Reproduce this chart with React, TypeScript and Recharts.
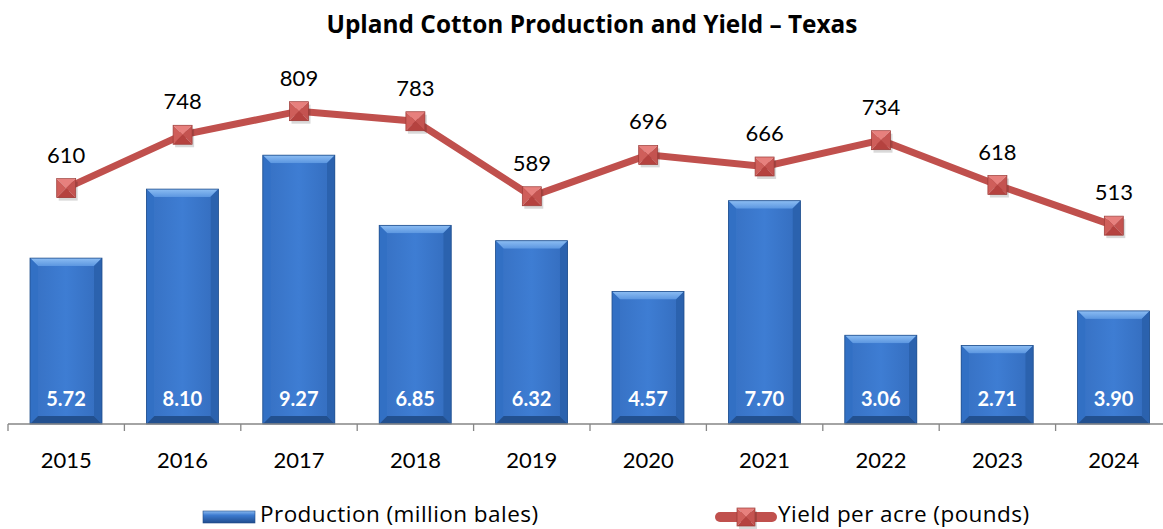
import React from 'react';
import { ComposedChart, Bar, Line, XAxis, YAxis, LabelList, Legend, Customized } from 'recharts';

const years = ['2015', '2016', '2017', '2018', '2019', '2020', '2021', '2022', '2023', '2024'];
const production = [5.72, 8.1, 9.27, 6.85, 6.32, 4.57, 7.7, 3.06, 2.71, 3.9];
const yieldPerAcre = [610, 748, 809, 783, 589, 696, 666, 734, 618, 513];

const title = 'Upland Cotton Production and Yield \u2013 Texas';
const productionName = 'Production (million bales)';
const yieldName = 'Yield per acre (pounds)';

const data = years.map((y, i) => ({ year: y, production: production[i], yield: yieldPerAcre[i] }));

const FONT = 'Lato, "Open Sans", sans-serif';
const TFONT = '"Open Sans", Lato, sans-serif';
const RED = '#C0504D';

const BevelBar = (props: any) => {
  const { x, y, width: w, height: h } = props;
  if (!h || h <= 0) return null;
  const b = Math.min(8, w / 4, h / 4);
  return (
    <g>
      <rect x={x} y={y} width={w} height={h} fill="#3A78CE" />
      <polygon points={`${x},${y} ${x + w},${y} ${x + w - b},${y + b} ${x + b},${y + b}`} fill="url(#barTop)" />
      <polygon points={`${x},${y} ${x + b},${y + b} ${x + b},${y + h - b} ${x},${y + h}`} fill="#3270C4" />
      <polygon points={`${x + w},${y} ${x + w},${y + h} ${x + w - b},${y + h - b} ${x + w - b},${y + b}`} fill="#2B62AE" />
      <polygon points={`${x},${y + h} ${x + b},${y + h - b} ${x + w - b},${y + h - b} ${x + w},${y + h}`} fill="#22508F" />
      <rect x={x + b} y={y + b} width={w - 2 * b} height={h - 2 * b} fill="url(#barBody)" />
      <rect x={x} y={y} width={w} height={h} fill="none" stroke="#214F8C" strokeWidth={0.8} />
    </g>
  );
};

const Marker = ({ cx, cy, s = 19 }: any) => {
  if (cx == null || cy == null) return null;
  const h = s / 2;
  const l = cx - h, r = cx + h, t = cy - h, bt = cy + h;
  return (
    <g>
      <rect x={l + 2} y={t + 3} width={s} height={s} fill="rgba(0,0,0,0.15)" />
      <polygon points={`${l},${t} ${r},${t} ${cx},${cy}`} fill="#E7807D" />
      <polygon points={`${l},${t} ${cx},${cy} ${l},${bt}`} fill="#CF5E5A" />
      <polygon points={`${r},${t} ${r},${bt} ${cx},${cy}`} fill="#C45350" />
      <polygon points={`${l},${bt} ${cx},${cy} ${r},${bt}`} fill="#B5423F" />
      <rect x={l} y={t} width={s} height={s} fill="none" stroke="#9A3936" strokeWidth={0.7} />
    </g>
  );
};

const LineDot = (props: any) => <Marker key={`d${props.index}`} cx={props.cx} cy={props.cy} />;

const BarValueLabel = (props: any) => {
  const { x, y, width, height, value } = props;
  return (
    <text x={x + width / 2} y={y + height - 26} textAnchor="middle" dominantBaseline="central"
      fill="#FFFFFF" fontFamily={FONT} fontWeight={700} fontSize={20}>
      {Number(value).toFixed(2)}
    </text>
  );
};

const LineValueLabel = (props: any) => {
  const { x, y, value } = props;
  return (
    <text x={x} y={y - 34} textAnchor="middle" dominantBaseline="central"
      fill="#000000" fontFamily={FONT} fontSize={22}>
      {value}
    </text>
  );
};

const XTick = (props: any) => {
  const { x, y, payload, index } = props;
  const half = payload && payload.offset ? payload.offset : 58.2;
  const n = years.length;
  return (
    <g>
      <line x1={x - half} y1={y} x2={x - half} y2={y + 7} stroke="#868686" strokeWidth={1.3} />
      {index === n - 1 && <line x1={x + half} y1={y} x2={x + half} y2={y + 7} stroke="#868686" strokeWidth={1.3} />}
      <text x={x} y={y + 35} textAnchor="middle" dominantBaseline="central" fill="#000" fontFamily={FONT} fontSize={22}>
        {payload.value}
      </text>
    </g>
  );
};

const LegendContent = () => (
  <svg width={1163} height={26} style={{ display: 'block', overflow: 'visible' }}>
    <defs>
      <linearGradient id="legBar" x1="0" y1="0" x2="0" y2="1">
        <stop offset="0" stopColor="#8BBAF0" />
        <stop offset="0.35" stopColor="#3D7BD0" />
        <stop offset="1" stopColor="#1F4C8E" />
      </linearGradient>
    </defs>
    <rect x={203} y={8} width={52} height={12} fill="url(#legBar)" stroke="#1E4A86" strokeWidth={0.6} />
    <text x={260} y={10} dominantBaseline="central" fontFamily={TFONT} fontSize={22.5} letterSpacing={0.45} fill="#000">{productionName}</text>
    <line x1={720} y1={14} x2={772} y2={14} stroke={RED} strokeWidth={10} strokeLinecap="round" />
    <Marker cx={746} cy={14} s={18} />
    <text x={778} y={10} dominantBaseline="central" fontFamily={TFONT} fontSize={22.5} letterSpacing={0.45} fill="#000">{yieldName}</text>
  </svg>
);

const Title = () => (
  <text x={592} y={23} textAnchor="middle" dominantBaseline="central" fontFamily={TFONT} fontWeight={700} fontSize={24.4} fill="#000">
    {title}
  </text>
);

export default function App() {
  return (
    <div style={{ position: 'absolute', left: 0, top: 0, width: 1163, height: 529, overflow: 'hidden', background: '#fff' }}>
      <style>{'body{margin:0}'}</style>
      <ComposedChart width={1180} height={529} data={data} margin={{ top: 76, right: 8, bottom: 0, left: 8 }}>
        <defs>
          <linearGradient id="barBody" x1="0" y1="0" x2="1" y2="0">
            <stop offset="0" stopColor="#3873C6" />
            <stop offset="0.5" stopColor="#3E7DD3" />
            <stop offset="1" stopColor="#3670C2" />
          </linearGradient>
          <linearGradient id="barTop" x1="0" y1="0" x2="0" y2="1">
            <stop offset="0" stopColor="#8CBDF3" />
            <stop offset="1" stopColor="#5B96E0" />
          </linearGradient>
        </defs>
        <XAxis dataKey="year" height={105} interval={0} tickLine={false} tickSize={0} tickMargin={0}
          axisLine={{ stroke: '#868686', strokeWidth: 1.3 }} tick={<XTick />} />
        <YAxis yAxisId="bar" hide domain={[0, 12]} />
        <YAxis yAxisId="line" hide domain={[0, 900]} orientation="right" />
        <Bar yAxisId="bar" dataKey="production" name={productionName} barSize={72} shape={<BevelBar />} isAnimationActive={false}>
          <LabelList dataKey="production" content={<BarValueLabel />} />
        </Bar>
        <Line yAxisId="line" dataKey="yield" name={yieldName} stroke={RED} strokeWidth={7} dot={<LineDot />}
          activeDot={false} isAnimationActive={false}>
          <LabelList dataKey="yield" content={<LineValueLabel />} />
        </Line>
        <Legend layout="horizontal" verticalAlign="middle" align="center" content={<LegendContent />}
          wrapperStyle={{ position: 'absolute', top: 503, left: 0, width: 1163, height: 26, bottom: 'auto' }} />
        <Customized component={<Title />} />
      </ComposedChart>
    </div>
  );
}
